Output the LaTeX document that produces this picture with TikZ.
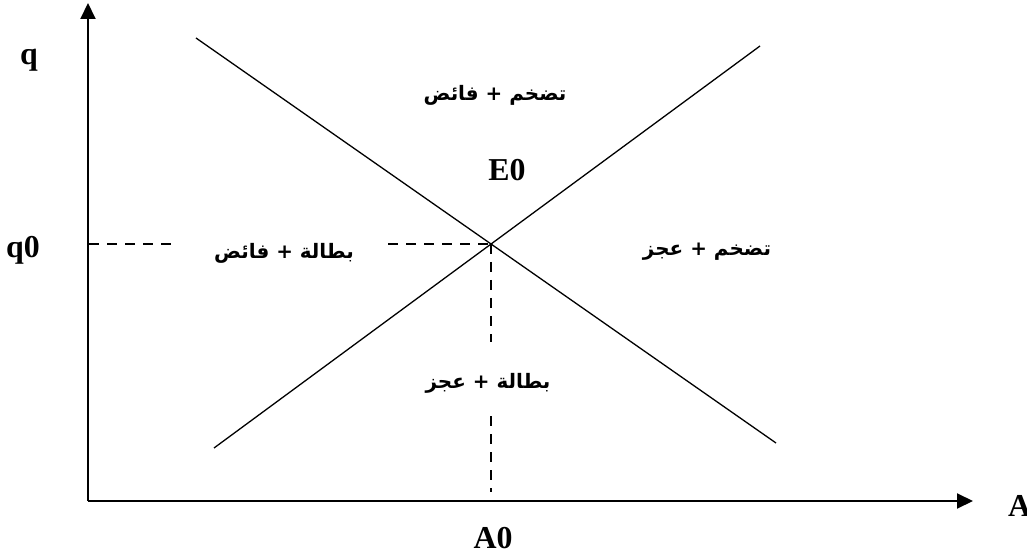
\documentclass[tikz,border=0pt]{standalone}
\usepackage{fontspec}
\usetikzlibrary{arrows.meta}
\setmainfont{Liberation Serif}
\newfontfamily\arabicfont[Script=Arabic]{DejaVu Sans}
\TeXXeTstate=1
\begin{document}
\begin{tikzpicture}[x=1bp,y=-1bp,
  axis/.style={line width=2bp,-{Triangle[length=16bp,width=15bp]}},
  curve/.style={line width=1.3bp},
  guide/.style={line width=1.5bp,dash pattern=on 10bp off 8bp},
  lab/.style={font=\fontsize{32}{34}\selectfont\bfseries,inner sep=0pt},
  ar/.style={font=\fontsize{20}{24}\selectfont\arabicfont\bfseries,inner sep=0pt}]
\useasboundingbox (0,0) rectangle (1027,558);
% axes
\coordinate (O) at (88,501);
\coordinate (Ytop) at (88,3);
\coordinate (Xend) at (973,501);
\draw[axis] (O) -- (Ytop);
\draw[axis] (O) -- (Xend);
% curves
\coordinate (E) at (491,244);
\coordinate (D1) at (196,38);
\coordinate (D2) at (776,443);
\coordinate (S1) at (214,448);
\coordinate (S2) at (760,46);
\draw[curve] (D1) -- (D2);
\draw[curve] (S1) -- (S2);
% guides
\coordinate (h1a) at (89,244);
\coordinate (h1b) at (175,244);
\coordinate (h2a) at (388,244);
\coordinate (v1b) at (491,342);
\coordinate (v2a) at (491,416);
\coordinate (v2b) at (491,492);
\draw[guide] (h1a) -- (h1b);
\draw[guide] (h2a) -- (E);
\draw[guide] (E) -- (v1b);
\draw[guide] (v2a) -- (v2b);
% labels
\node[lab] (q) at (29,60) {q};
\node[lab] (q0) at (23,250) {q0};
\node[lab] (E0) at (507,170) {E0};
\node[lab] (A0) at (493,538) {A0};
\node[lab,anchor=west] (A) at (1008,506) {A};
\node[ar] (t1) at (495,95) {\arabicfont\beginR تضخم + فائض\endR};
\node[ar] (t2) at (284,253) {\arabicfont\beginR بطالة + فائض\endR};
\node[ar] (t3) at (707,252) {\arabicfont\beginR تضخم + عجز\endR};
\node[ar] (t4) at (488,383) {\arabicfont\beginR بطالة + عجز\endR};
\end{tikzpicture}
\end{document}
